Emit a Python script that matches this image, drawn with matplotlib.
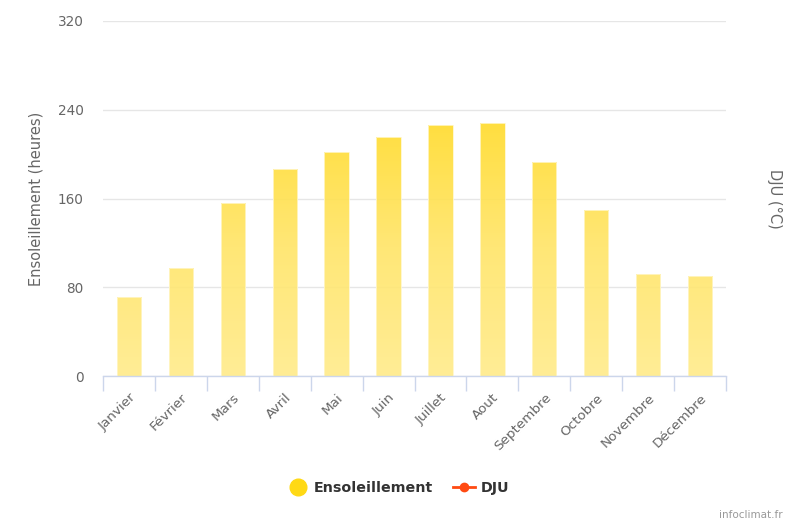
import numpy as np
import matplotlib.pyplot as plt
from matplotlib.colors import LinearSegmentedColormap
from matplotlib.lines import Line2D

months = ['Janvier', 'Février', 'Mars', 'Avril', 'Mai', 'Juin', 'Juillet',
          'Aout', 'Septembre', 'Octobre', 'Novembre', 'Décembre']
sunshine = [71.5, 97.6, 155.7, 186.6, 202.2, 215.8, 226.3, 227.8, 192.7, 149.4, 91.7, 90.5]
y_ticks = [0, 80, 160, 240, 320]

plt.rcParams['font.family'] = ['DejaVu Sans']

fig = plt.figure(figsize=(7.86, 5.2), dpi=100)
ax = fig.add_axes([103 / 786, 1 - 376 / 520, 623 / 786, 355 / 520])

x = np.arange(len(months))
bar_w = 0.47
bars = ax.bar(x, sunshine, width=bar_w, color='none', edgecolor='#fff6c8',
              linewidth=0.6, zorder=3)

# gradient runs over the plot height, so short bars stay pale
cmap = LinearSegmentedColormap.from_list('sun', ['#ffec8c', '#ffe56a', '#ffdc2c'])
grad = np.linspace(0, 1, 256).reshape(-1, 1)
for b in bars:
    im = ax.imshow(grad, cmap=cmap, origin='lower', aspect='auto',
                   extent=[-0.5, len(months) - 0.5, 0, 232], zorder=2,
                   vmin=0, vmax=1, alpha=0.92)
    im.set_clip_path(b)

ax.set_xlim(-0.5, len(months) - 0.5)
ax.set_ylim(0, 320)
ax.set_yticks(y_ticks)
ax.yaxis.grid(True, color='#e6e6e6', linewidth=1)
ax.set_axisbelow(True)

for s in ['top', 'right', 'left']:
    ax.spines[s].set_visible(False)
ax.spines['bottom'].set_color('#ccd6eb')
ax.spines['bottom'].set_linewidth(1)
ax.spines['bottom'].set_zorder(4)

# ticks sit between categories, labels under category centres
ax.set_xticks(np.arange(-0.5, len(months)), minor=False)
ax.set_xticklabels([])
ax.tick_params(axis='x', which='major', length=11, color='#ccd6eb', width=1, direction='out')
ax.set_xticks(x, minor=True)
ax.set_xticklabels(months, minor=True, rotation=45, ha='right', rotation_mode='anchor',
                   color='#666666', fontsize=9.7)
ax.tick_params(axis='x', which='minor', length=0, pad=11)

ax.tick_params(axis='y', length=0, pad=14, labelcolor='#666666', labelsize=9.8)
ax.set_ylabel('Ensoleillement (heures)', color='#666666', fontsize=10.5, labelpad=10)

ax2 = ax.twinx()
ax2.set_yticks([])
for s in ax2.spines.values():
    s.set_visible(False)
ax2.set_ylabel('DJU (°C)', color='#666666', fontsize=10.5, rotation=270, labelpad=40)

handles = [
    Line2D([], [], linestyle='none', marker='o', markersize=12, color='#ffd915'),
    Line2D([], [], color='#ff4a12', linewidth=2, marker='o', markersize=6),
]
leg = fig.legend(handles, ['Ensoleillement', 'DJU'], loc='center',
                 bbox_to_anchor=(398 / 786, 1 - 488 / 520), ncol=2, frameon=False,
                 handlelength=1.5, columnspacing=1.4, handletextpad=0.4,
                 prop={'weight': 'bold', 'size': 10.3})
for t in leg.get_texts():
    t.set_color('#333333')

fig.text(719 / 786, 1 - 515 / 520, 'infoclimat.fr', fontsize=7.5, color='#999999',
         ha='left', va='center')

fig.savefig('out.png', dpi=100)
